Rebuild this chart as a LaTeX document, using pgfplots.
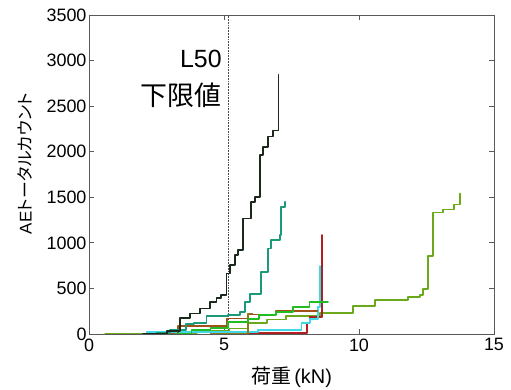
\documentclass[border=0pt]{standalone}
\usepackage{fontspec}
\setmainfont{Liberation Sans}
\newfontfamily\jp{Noto Sans CJK JP}
\newfontfamily\jpp[RawFeature=+palt]{Noto Sans CJK JP}
\usepackage{pgfplots}
\pgfplotsset{compat=1.18}
\definecolor{cblack}{HTML}{1A2A1A}
\definecolor{cteal}{HTML}{1A9A78}
\definecolor{ccyan}{HTML}{40D8E8}
\definecolor{cred}{HTML}{B02020}
\definecolor{cbrown}{HTML}{A0521A}
\definecolor{cobrown}{HTML}{8C7A1A}
\definecolor{cgreen}{HTML}{22BB22}
\definecolor{colive}{HTML}{6AAA1A}
\begin{document}
\begin{tikzpicture}
\begin{axis}[
  scale only axis, width=405bp, height=319bp,
  xmin=0, xmax=15, ymin=0, ymax=3500,
  xtick={0,5,10,15}, ytick={0,500,...,3500},
  tick align=inside, tick pos=both,
  major tick length=5bp,
  axis line style={gray!70!black, line width=0.8bp},
  every tick/.style={gray!70!black, line width=0.8bp},
  tick label style={font=\fontsize{18}{20}\selectfont},
  /pgf/number format/assume math mode=true,
  /pgf/number format/1000 sep={},
  scaled ticks=false,
  xticklabel style={yshift=-1bp},
  yticklabel style={xshift=1bp},
  every axis x label/.style={at={(rel axis cs:0.5,0)}, yshift=-43bp, anchor=center},
  every axis y label/.style={at={(rel axis cs:-0.158,0.535)}, rotate=90, anchor=center},
  xlabel={\fontsize{20}{22}\selectfont{\jp 荷重}\,(kN)},
  ylabel={\fontsize{17}{19}\selectfont AE{\jpp トータルカウント}},
  every axis plot/.append style={line width=1.8bp, line join=round, line cap=round},
  clip=true,
]
\coordinate (O) at (rel axis cs:0,0);
% dotted L50 line
\addplot[gray!60!black, densely dotted, line width=1.2bp, line cap=butt] coordinates {(5.16,0) (5.16,3500)};
% olive (long)
\addplot[const plot mark left, colive] coordinates {
(0.6,0)(3.0,10)(4.0,30)(5.2,60)(5.9,120)(6.6,160)(7.3,200)(8.55,227)(9.78,307)(10.6,373)(11.8,403)(12.26,428)(12.38,494)(12.57,859)(12.75,1334)(13.12,1366)(13.52,1420)(13.74,1541)};
% red
\addplot[const plot mark left, cred] coordinates {
(5.8,0)(6.2,10)(8.07,115)(8.17,185)(8.62,1085)};
% cyan
\addplot[const plot mark left, ccyan] coordinates {
(2.1,0)(2.15,20)(5.6,25)(6.27,48)(7.87,124)(8.18,161)(8.49,300)(8.55,745)};
% brown
\addplot[const plot mark left, cbrown] coordinates {
(2.8,0)(3.3,90)(5.12,170)(5.9,215)(6.94,255)(8.45,255)};
\addplot[const plot mark left, cobrown] coordinates {
(4.5,0)(5.9,225)(6.05,225)};
% bright green
\addplot[const plot mark left, cgreen] coordinates {
(3.2,0)(3.8,40)(4.5,70)(5.15,130)(5.9,165)(6.3,205)(6.94,240)(7.55,297)(8.17,352)(8.85,352)};
% teal
\addplot[const plot mark left, cteal] coordinates {
(2.0,0)(2.5,15)(3.0,40)(3.6,110)(3.9,120)(4.35,195)(5.15,210)(5.58,240)(5.77,352)(5.95,443)(6.38,682)(6.63,938)(6.75,1030)(7.06,1085)(7.12,1396)(7.25,1451)};
% black
\addplot[const plot mark left, cblack] coordinates {
(2.0,0)(2.9,30)(3.36,176)(3.73,224)(4.10,280)(4.47,350)(4.72,395)(4.90,425)(5.09,663)(5.21,755)(5.40,865)(5.52,920)(5.70,1268)(6.01,1450)(6.14,1506)(6.32,1964)(6.44,2056)(6.63,2166)(6.81,2232)(7.02,2844)};
\node[anchor=east, font=\fontsize{25}{27}\selectfont, inner sep=0pt] at (axis cs:4.92,3018) {L50};
\node[anchor=east, font=\fontsize{27}{29}\selectfont\jp, inner sep=0pt] at (axis cs:4.92,2623) {下限値};
\end{axis}
\pgfresetboundingbox
\path (O) ++(-89bp,-56bp) rectangle ++(511bp,390bp);
\end{tikzpicture}
\end{document}
